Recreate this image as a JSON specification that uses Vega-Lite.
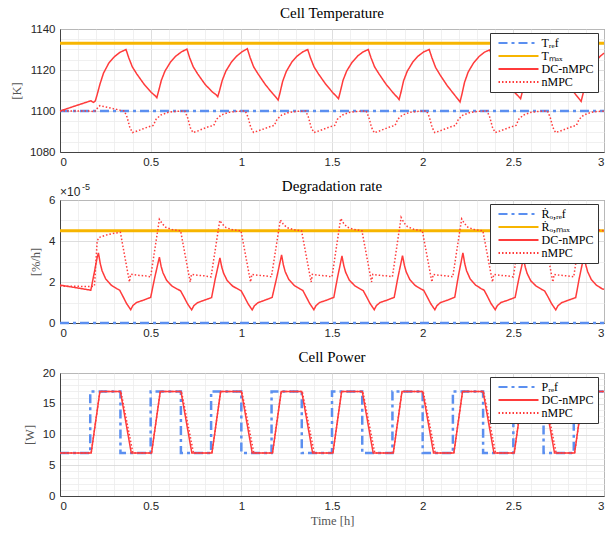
{
"$schema":"https://vega.github.io/schema/vega-lite/v6.json",
"padding":{"left":9,"top":5,"right":10,"bottom":2},
"spacing":10,
"config":{
"view":{"stroke":"#444","strokeWidth":1},
"title":{"font":"Liberation Serif","fontSize":15,"fontWeight":"normal","color":"#000","offset":2},
"axis":{"labelFont":"Liberation Sans","labelFontSize":11.5,"labelColor":"#262626","titleFont":"Liberation Serif","titleFontWeight":"normal","titleFontSize":12.5,"titleColor":"#555","domainColor":"#444","ticks":false,"labelOverlap":false,"labelBound":false,"gridWidth":0.8},
"axisY":{"labelPadding":5,"titlePadding":6},
"axisX":{"labelPadding":4},
"legend":{"orient":"none","legendX":430,"legendY":4,"title":null,"strokeColor":"#333","fillColor":"#fff","padding":4,"symbolType":"M-8,0H8","symbolSize":25,"symbolStrokeWidth":2,"symbolOffset":18.5,"labelOffset":17,"labelFont":"Liberation Serif","labelFontSize":12,"labelColor":"#000","rowPadding":1}
},
"resolve":{"scale":{"color":"independent","strokeDash":"independent"}},
"datasets":{
"temp":[
{"t":0,"v":1100,"s":"Tref"},{"t":3,"v":1100,"s":"Tref"},
{"t":0,"v":1133,"s":"Tmax"},{"t":3,"v":1133,"s":"Tmax"},
{"t":0,"v":1100,"s":"DC-nMPC"},{"t":0.17,"v":1105,"s":"DC-nMPC"},{"t":0.185,"v":1104.2,"s":"DC-nMPC"},{"t":0.195,"v":1105,"s":"DC-nMPC"},{"t":0.205,"v":1108,"s":"DC-nMPC"},{"t":0.22,"v":1113,"s":"DC-nMPC"},{"t":0.24,"v":1118.5,"s":"DC-nMPC"},{"t":0.27,"v":1123.5,"s":"DC-nMPC"},{"t":0.3,"v":1126.5,"s":"DC-nMPC"},{"t":0.33,"v":1128.6,"s":"DC-nMPC"},{"t":0.364,"v":1130,"s":"DC-nMPC"},
{"t":0.379,"v":1126,"s":"DC-nMPC"},{"t":0.399,"v":1121.5,"s":"DC-nMPC"},{"t":0.424,"v":1118,"s":"DC-nMPC"},{"t":0.464,"v":1113,"s":"DC-nMPC"},{"t":0.504,"v":1109,"s":"DC-nMPC"},{"t":0.524,"v":1107.5,"s":"DC-nMPC"},{"t":0.534,"v":1106.5,"s":"DC-nMPC"},{"t":0.544,"v":1109.8,"s":"DC-nMPC"},{"t":0.559,"v":1115,"s":"DC-nMPC"},{"t":0.579,"v":1119.5,"s":"DC-nMPC"},{"t":0.609,"v":1123.8,"s":"DC-nMPC"},{"t":0.639,"v":1126.8,"s":"DC-nMPC"},{"t":0.669,"v":1128.8,"s":"DC-nMPC"},{"t":0.7,"v":1130.2,"s":"DC-nMPC"},
{"t":0.715,"v":1126,"s":"DC-nMPC"},{"t":0.735,"v":1121.5,"s":"DC-nMPC"},{"t":0.76,"v":1118,"s":"DC-nMPC"},{"t":0.8,"v":1113,"s":"DC-nMPC"},{"t":0.84,"v":1109.3,"s":"DC-nMPC"},{"t":0.86,"v":1108,"s":"DC-nMPC"},{"t":0.87,"v":1107,"s":"DC-nMPC"},{"t":0.88,"v":1110,"s":"DC-nMPC"},{"t":0.895,"v":1115,"s":"DC-nMPC"},{"t":0.915,"v":1119.5,"s":"DC-nMPC"},{"t":0.945,"v":1123.8,"s":"DC-nMPC"},{"t":0.975,"v":1126.8,"s":"DC-nMPC"},{"t":1.005,"v":1129,"s":"DC-nMPC"},{"t":1.033,"v":1130.4,"s":"DC-nMPC"},
{"t":1.048,"v":1126.2,"s":"DC-nMPC"},{"t":1.068,"v":1121.5,"s":"DC-nMPC"},{"t":1.093,"v":1118,"s":"DC-nMPC"},{"t":1.133,"v":1112.8,"s":"DC-nMPC"},{"t":1.173,"v":1108.5,"s":"DC-nMPC"},{"t":1.193,"v":1106.5,"s":"DC-nMPC"},{"t":1.203,"v":1105.3,"s":"DC-nMPC"},{"t":1.213,"v":1108.8,"s":"DC-nMPC"},{"t":1.228,"v":1114.5,"s":"DC-nMPC"},{"t":1.248,"v":1119.3,"s":"DC-nMPC"},{"t":1.278,"v":1123.8,"s":"DC-nMPC"},{"t":1.308,"v":1126.8,"s":"DC-nMPC"},{"t":1.338,"v":1128.8,"s":"DC-nMPC"},{"t":1.366,"v":1130,"s":"DC-nMPC"},
{"t":1.381,"v":1126,"s":"DC-nMPC"},{"t":1.401,"v":1121.5,"s":"DC-nMPC"},{"t":1.426,"v":1118,"s":"DC-nMPC"},{"t":1.466,"v":1113,"s":"DC-nMPC"},{"t":1.506,"v":1108.8,"s":"DC-nMPC"},{"t":1.526,"v":1107,"s":"DC-nMPC"},{"t":1.536,"v":1106,"s":"DC-nMPC"},{"t":1.546,"v":1109.5,"s":"DC-nMPC"},{"t":1.561,"v":1115,"s":"DC-nMPC"},{"t":1.581,"v":1119.5,"s":"DC-nMPC"},{"t":1.611,"v":1123.8,"s":"DC-nMPC"},{"t":1.641,"v":1126.8,"s":"DC-nMPC"},{"t":1.671,"v":1128.8,"s":"DC-nMPC"},{"t":1.7,"v":1130,"s":"DC-nMPC"},
{"t":1.715,"v":1126,"s":"DC-nMPC"},{"t":1.735,"v":1121.5,"s":"DC-nMPC"},{"t":1.76,"v":1118,"s":"DC-nMPC"},{"t":1.8,"v":1112.8,"s":"DC-nMPC"},{"t":1.84,"v":1108.6,"s":"DC-nMPC"},{"t":1.86,"v":1106.7,"s":"DC-nMPC"},{"t":1.87,"v":1105.6,"s":"DC-nMPC"},{"t":1.88,"v":1109,"s":"DC-nMPC"},{"t":1.895,"v":1114.8,"s":"DC-nMPC"},{"t":1.915,"v":1119.4,"s":"DC-nMPC"},{"t":1.945,"v":1123.8,"s":"DC-nMPC"},{"t":1.975,"v":1126.8,"s":"DC-nMPC"},{"t":2.005,"v":1128.8,"s":"DC-nMPC"},{"t":2.036,"v":1130,"s":"DC-nMPC"},
{"t":2.051,"v":1126,"s":"DC-nMPC"},{"t":2.071,"v":1121.3,"s":"DC-nMPC"},{"t":2.096,"v":1117.6,"s":"DC-nMPC"},{"t":2.136,"v":1112.3,"s":"DC-nMPC"},{"t":2.176,"v":1107.8,"s":"DC-nMPC"},{"t":2.196,"v":1105.6,"s":"DC-nMPC"},{"t":2.206,"v":1104.4,"s":"DC-nMPC"},{"t":2.216,"v":1108,"s":"DC-nMPC"},{"t":2.231,"v":1114,"s":"DC-nMPC"},{"t":2.251,"v":1119,"s":"DC-nMPC"},{"t":2.281,"v":1123.5,"s":"DC-nMPC"},{"t":2.311,"v":1126.6,"s":"DC-nMPC"},{"t":2.341,"v":1128.7,"s":"DC-nMPC"},{"t":2.37,"v":1129.8,"s":"DC-nMPC"},
{"t":2.385,"v":1126,"s":"DC-nMPC"},{"t":2.405,"v":1121.5,"s":"DC-nMPC"},{"t":2.43,"v":1118,"s":"DC-nMPC"},{"t":2.47,"v":1113,"s":"DC-nMPC"},{"t":2.51,"v":1108.8,"s":"DC-nMPC"},{"t":2.53,"v":1107,"s":"DC-nMPC"},{"t":2.54,"v":1106,"s":"DC-nMPC"},{"t":2.55,"v":1109.5,"s":"DC-nMPC"},{"t":2.565,"v":1115,"s":"DC-nMPC"},{"t":2.585,"v":1119.5,"s":"DC-nMPC"},{"t":2.615,"v":1123.8,"s":"DC-nMPC"},{"t":2.645,"v":1126.8,"s":"DC-nMPC"},{"t":2.675,"v":1128.8,"s":"DC-nMPC"},{"t":2.704,"v":1130,"s":"DC-nMPC"},
{"t":2.719,"v":1126,"s":"DC-nMPC"},{"t":2.739,"v":1121.3,"s":"DC-nMPC"},{"t":2.764,"v":1117.7,"s":"DC-nMPC"},{"t":2.804,"v":1112.5,"s":"DC-nMPC"},{"t":2.844,"v":1108,"s":"DC-nMPC"},{"t":2.864,"v":1105.8,"s":"DC-nMPC"},{"t":2.874,"v":1104.7,"s":"DC-nMPC"},{"t":2.884,"v":1108.3,"s":"DC-nMPC"},{"t":2.899,"v":1114.2,"s":"DC-nMPC"},{"t":2.919,"v":1119.2,"s":"DC-nMPC"},{"t":2.949,"v":1123.6,"s":"DC-nMPC"},{"t":2.979,"v":1126.7,"s":"DC-nMPC"},{"t":3,"v":1128.2,"s":"DC-nMPC"},
{"t":0,"v":1100,"s":"nMPC"},{"t":0.17,"v":1100,"s":"nMPC"},{"t":0.19,"v":1099.5,"s":"nMPC"},{"t":0.2,"v":1100.8,"s":"nMPC"},{"t":0.22,"v":1102.6,"s":"nMPC"},{"t":0.25,"v":1102,"s":"nMPC"},{"t":0.29,"v":1101.2,"s":"nMPC"},{"t":0.33,"v":1100.4,"s":"nMPC"},{"t":0.355,"v":1100,"s":"nMPC"},
{"t":0.37,"v":1097,"s":"nMPC"},{"t":0.385,"v":1092,"s":"nMPC"},{"t":0.4,"v":1089.5,"s":"nMPC"},{"t":0.425,"v":1090.2,"s":"nMPC"},{"t":0.455,"v":1091.2,"s":"nMPC"},{"t":0.485,"v":1092.2,"s":"nMPC"},{"t":0.515,"v":1093,"s":"nMPC"},{"t":0.53,"v":1096,"s":"nMPC"},{"t":0.555,"v":1098,"s":"nMPC"},{"t":0.595,"v":1099.3,"s":"nMPC"},{"t":0.635,"v":1099.8,"s":"nMPC"},{"t":0.688,"v":1100,"s":"nMPC"},
{"t":0.703,"v":1097,"s":"nMPC"},{"t":0.718,"v":1092,"s":"nMPC"},{"t":0.733,"v":1089.5,"s":"nMPC"},{"t":0.758,"v":1090.2,"s":"nMPC"},{"t":0.788,"v":1091.3,"s":"nMPC"},{"t":0.818,"v":1092.3,"s":"nMPC"},{"t":0.848,"v":1093,"s":"nMPC"},{"t":0.863,"v":1096,"s":"nMPC"},{"t":0.888,"v":1098,"s":"nMPC"},{"t":0.928,"v":1099.3,"s":"nMPC"},{"t":0.968,"v":1099.8,"s":"nMPC"},{"t":1.022,"v":1100,"s":"nMPC"},
{"t":1.037,"v":1097,"s":"nMPC"},{"t":1.052,"v":1092,"s":"nMPC"},{"t":1.067,"v":1089.6,"s":"nMPC"},{"t":1.092,"v":1090.3,"s":"nMPC"},{"t":1.122,"v":1091.2,"s":"nMPC"},{"t":1.152,"v":1092.2,"s":"nMPC"},{"t":1.182,"v":1093,"s":"nMPC"},{"t":1.197,"v":1096,"s":"nMPC"},{"t":1.222,"v":1098,"s":"nMPC"},{"t":1.262,"v":1099.3,"s":"nMPC"},{"t":1.302,"v":1099.8,"s":"nMPC"},{"t":1.355,"v":1100,"s":"nMPC"},
{"t":1.37,"v":1097,"s":"nMPC"},{"t":1.385,"v":1092,"s":"nMPC"},{"t":1.4,"v":1089.5,"s":"nMPC"},{"t":1.425,"v":1090.2,"s":"nMPC"},{"t":1.455,"v":1091.2,"s":"nMPC"},{"t":1.485,"v":1092.2,"s":"nMPC"},{"t":1.515,"v":1093,"s":"nMPC"},{"t":1.53,"v":1096,"s":"nMPC"},{"t":1.555,"v":1098,"s":"nMPC"},{"t":1.595,"v":1099.3,"s":"nMPC"},{"t":1.635,"v":1099.8,"s":"nMPC"},{"t":1.688,"v":1100,"s":"nMPC"},
{"t":1.703,"v":1097,"s":"nMPC"},{"t":1.718,"v":1092,"s":"nMPC"},{"t":1.733,"v":1089.4,"s":"nMPC"},{"t":1.758,"v":1090.1,"s":"nMPC"},{"t":1.788,"v":1091.2,"s":"nMPC"},{"t":1.818,"v":1092.2,"s":"nMPC"},{"t":1.848,"v":1093,"s":"nMPC"},{"t":1.863,"v":1096,"s":"nMPC"},{"t":1.888,"v":1098,"s":"nMPC"},{"t":1.928,"v":1099.3,"s":"nMPC"},{"t":1.968,"v":1099.8,"s":"nMPC"},{"t":2.022,"v":1100,"s":"nMPC"},
{"t":2.037,"v":1097,"s":"nMPC"},{"t":2.052,"v":1092,"s":"nMPC"},{"t":2.067,"v":1089.5,"s":"nMPC"},{"t":2.092,"v":1090.2,"s":"nMPC"},{"t":2.122,"v":1091.2,"s":"nMPC"},{"t":2.152,"v":1092.2,"s":"nMPC"},{"t":2.182,"v":1093,"s":"nMPC"},{"t":2.197,"v":1096,"s":"nMPC"},{"t":2.222,"v":1098,"s":"nMPC"},{"t":2.262,"v":1099.3,"s":"nMPC"},{"t":2.302,"v":1099.8,"s":"nMPC"},{"t":2.355,"v":1100,"s":"nMPC"},
{"t":2.37,"v":1097,"s":"nMPC"},{"t":2.385,"v":1092,"s":"nMPC"},{"t":2.4,"v":1089.5,"s":"nMPC"},{"t":2.425,"v":1090.2,"s":"nMPC"},{"t":2.455,"v":1091.2,"s":"nMPC"},{"t":2.485,"v":1092.2,"s":"nMPC"},{"t":2.515,"v":1093,"s":"nMPC"},{"t":2.53,"v":1096,"s":"nMPC"},{"t":2.555,"v":1098,"s":"nMPC"},{"t":2.595,"v":1099.3,"s":"nMPC"},{"t":2.635,"v":1099.8,"s":"nMPC"},{"t":2.688,"v":1100,"s":"nMPC"},
{"t":2.703,"v":1097,"s":"nMPC"},{"t":2.718,"v":1092,"s":"nMPC"},{"t":2.733,"v":1089.5,"s":"nMPC"},{"t":2.758,"v":1090.2,"s":"nMPC"},{"t":2.788,"v":1091.2,"s":"nMPC"},{"t":2.818,"v":1092.2,"s":"nMPC"},{"t":2.848,"v":1093,"s":"nMPC"},{"t":2.863,"v":1096,"s":"nMPC"},{"t":2.888,"v":1098,"s":"nMPC"},{"t":2.928,"v":1099.3,"s":"nMPC"},{"t":2.968,"v":1099.8,"s":"nMPC"},{"t":3,"v":1099.9,"s":"nMPC"}
],
"deg":[
{"t":0,"v":0,"s":"Rref"},{"t":3,"v":0,"s":"Rref"},
{"t":0,"v":4.5,"s":"Rmax"},{"t":3,"v":4.5,"s":"Rmax"},
{"t":0,"v":1.85,"s":"DC-nMPC"},{"t":0.17,"v":1.6,"s":"DC-nMPC"},{"t":0.19,"v":2.5,"s":"DC-nMPC"},{"t":0.205,"v":3.2,"s":"DC-nMPC"},{"t":0.212,"v":3.42,"s":"DC-nMPC"},
{"t":0.222,"v":2.9,"s":"DC-nMPC"},{"t":0.232,"v":2.55,"s":"DC-nMPC"},{"t":0.252,"v":2.15,"s":"DC-nMPC"},{"t":0.282,"v":1.85,"s":"DC-nMPC"},{"t":0.312,"v":1.68,"s":"DC-nMPC"},{"t":0.329,"v":1.6,"s":"DC-nMPC"},{"t":0.347,"v":1.3,"s":"DC-nMPC"},{"t":0.367,"v":0.95,"s":"DC-nMPC"},{"t":0.39,"v":0.65,"s":"DC-nMPC"},{"t":0.402,"v":0.85,"s":"DC-nMPC"},{"t":0.422,"v":1,"s":"DC-nMPC"},{"t":0.462,"v":1.12,"s":"DC-nMPC"},{"t":0.5,"v":1.25,"s":"DC-nMPC"},{"t":0.522,"v":2.2,"s":"DC-nMPC"},{"t":0.548,"v":3.21,"s":"DC-nMPC"},
{"t":0.558,"v":2.75,"s":"DC-nMPC"},{"t":0.568,"v":2.45,"s":"DC-nMPC"},{"t":0.588,"v":2.08,"s":"DC-nMPC"},{"t":0.618,"v":1.8,"s":"DC-nMPC"},{"t":0.648,"v":1.65,"s":"DC-nMPC"},{"t":0.665,"v":1.57,"s":"DC-nMPC"},{"t":0.683,"v":1.28,"s":"DC-nMPC"},{"t":0.703,"v":0.94,"s":"DC-nMPC"},{"t":0.726,"v":0.64,"s":"DC-nMPC"},{"t":0.738,"v":0.84,"s":"DC-nMPC"},{"t":0.758,"v":0.99,"s":"DC-nMPC"},{"t":0.798,"v":1.12,"s":"DC-nMPC"},{"t":0.836,"v":1.24,"s":"DC-nMPC"},{"t":0.856,"v":2.15,"s":"DC-nMPC"},{"t":0.882,"v":3.18,"s":"DC-nMPC"},
{"t":0.892,"v":2.73,"s":"DC-nMPC"},{"t":0.902,"v":2.43,"s":"DC-nMPC"},{"t":0.922,"v":2.07,"s":"DC-nMPC"},{"t":0.952,"v":1.8,"s":"DC-nMPC"},{"t":0.982,"v":1.65,"s":"DC-nMPC"},{"t":0.999,"v":1.57,"s":"DC-nMPC"},{"t":1.017,"v":1.28,"s":"DC-nMPC"},{"t":1.037,"v":0.94,"s":"DC-nMPC"},{"t":1.06,"v":0.64,"s":"DC-nMPC"},{"t":1.072,"v":0.84,"s":"DC-nMPC"},{"t":1.092,"v":0.99,"s":"DC-nMPC"},{"t":1.132,"v":1.12,"s":"DC-nMPC"},{"t":1.17,"v":1.25,"s":"DC-nMPC"},{"t":1.196,"v":2.25,"s":"DC-nMPC"},{"t":1.222,"v":3.32,"s":"DC-nMPC"},
{"t":1.232,"v":2.83,"s":"DC-nMPC"},{"t":1.242,"v":2.5,"s":"DC-nMPC"},{"t":1.262,"v":2.12,"s":"DC-nMPC"},{"t":1.292,"v":1.83,"s":"DC-nMPC"},{"t":1.322,"v":1.67,"s":"DC-nMPC"},{"t":1.339,"v":1.59,"s":"DC-nMPC"},{"t":1.357,"v":1.29,"s":"DC-nMPC"},{"t":1.377,"v":0.95,"s":"DC-nMPC"},{"t":1.4,"v":0.65,"s":"DC-nMPC"},{"t":1.412,"v":0.85,"s":"DC-nMPC"},{"t":1.432,"v":1,"s":"DC-nMPC"},{"t":1.472,"v":1.12,"s":"DC-nMPC"},{"t":1.51,"v":1.25,"s":"DC-nMPC"},{"t":1.53,"v":2.2,"s":"DC-nMPC"},{"t":1.555,"v":3.27,"s":"DC-nMPC"},
{"t":1.565,"v":2.8,"s":"DC-nMPC"},{"t":1.575,"v":2.48,"s":"DC-nMPC"},{"t":1.595,"v":2.1,"s":"DC-nMPC"},{"t":1.625,"v":1.82,"s":"DC-nMPC"},{"t":1.655,"v":1.66,"s":"DC-nMPC"},{"t":1.672,"v":1.58,"s":"DC-nMPC"},{"t":1.69,"v":1.29,"s":"DC-nMPC"},{"t":1.71,"v":0.95,"s":"DC-nMPC"},{"t":1.733,"v":0.65,"s":"DC-nMPC"},{"t":1.745,"v":0.85,"s":"DC-nMPC"},{"t":1.765,"v":1,"s":"DC-nMPC"},{"t":1.805,"v":1.12,"s":"DC-nMPC"},{"t":1.843,"v":1.25,"s":"DC-nMPC"},{"t":1.863,"v":2.2,"s":"DC-nMPC"},{"t":1.889,"v":3.29,"s":"DC-nMPC"},
{"t":1.899,"v":2.82,"s":"DC-nMPC"},{"t":1.909,"v":2.5,"s":"DC-nMPC"},{"t":1.929,"v":2.12,"s":"DC-nMPC"},{"t":1.959,"v":1.83,"s":"DC-nMPC"},{"t":1.989,"v":1.67,"s":"DC-nMPC"},{"t":2.006,"v":1.59,"s":"DC-nMPC"},{"t":2.024,"v":1.29,"s":"DC-nMPC"},{"t":2.044,"v":0.95,"s":"DC-nMPC"},{"t":2.067,"v":0.65,"s":"DC-nMPC"},{"t":2.079,"v":0.85,"s":"DC-nMPC"},{"t":2.099,"v":1,"s":"DC-nMPC"},{"t":2.139,"v":1.12,"s":"DC-nMPC"},{"t":2.177,"v":1.26,"s":"DC-nMPC"},{"t":2.197,"v":2.3,"s":"DC-nMPC"},{"t":2.222,"v":3.42,"s":"DC-nMPC"},
{"t":2.232,"v":2.9,"s":"DC-nMPC"},{"t":2.242,"v":2.55,"s":"DC-nMPC"},{"t":2.262,"v":2.15,"s":"DC-nMPC"},{"t":2.292,"v":1.85,"s":"DC-nMPC"},{"t":2.322,"v":1.68,"s":"DC-nMPC"},{"t":2.339,"v":1.6,"s":"DC-nMPC"},{"t":2.357,"v":1.3,"s":"DC-nMPC"},{"t":2.377,"v":0.95,"s":"DC-nMPC"},{"t":2.4,"v":0.65,"s":"DC-nMPC"},{"t":2.412,"v":0.85,"s":"DC-nMPC"},{"t":2.432,"v":1,"s":"DC-nMPC"},{"t":2.472,"v":1.12,"s":"DC-nMPC"},{"t":2.51,"v":1.25,"s":"DC-nMPC"},{"t":2.53,"v":2.15,"s":"DC-nMPC"},{"t":2.556,"v":3.15,"s":"DC-nMPC"},
{"t":2.566,"v":2.72,"s":"DC-nMPC"},{"t":2.576,"v":2.42,"s":"DC-nMPC"},{"t":2.596,"v":2.06,"s":"DC-nMPC"},{"t":2.626,"v":1.8,"s":"DC-nMPC"},{"t":2.656,"v":1.64,"s":"DC-nMPC"},{"t":2.673,"v":1.56,"s":"DC-nMPC"},{"t":2.691,"v":1.28,"s":"DC-nMPC"},{"t":2.711,"v":0.94,"s":"DC-nMPC"},{"t":2.734,"v":0.64,"s":"DC-nMPC"},{"t":2.746,"v":0.84,"s":"DC-nMPC"},{"t":2.766,"v":0.99,"s":"DC-nMPC"},{"t":2.806,"v":1.12,"s":"DC-nMPC"},{"t":2.844,"v":1.24,"s":"DC-nMPC"},{"t":2.864,"v":2.2,"s":"DC-nMPC"},{"t":2.89,"v":3.3,"s":"DC-nMPC"},
{"t":2.9,"v":2.82,"s":"DC-nMPC"},{"t":2.91,"v":2.5,"s":"DC-nMPC"},{"t":2.93,"v":2.12,"s":"DC-nMPC"},{"t":2.96,"v":1.83,"s":"DC-nMPC"},{"t":2.99,"v":1.67,"s":"DC-nMPC"},{"t":3,"v":1.64,"s":"DC-nMPC"},
{"t":0,"v":1.8,"s":"nMPC"},{"t":0.17,"v":1.78,"s":"nMPC"},{"t":0.19,"v":1.8,"s":"nMPC"},{"t":0.205,"v":4,"s":"nMPC"},{"t":0.215,"v":4.17,"s":"nMPC"},{"t":0.25,"v":4.28,"s":"nMPC"},{"t":0.29,"v":4.36,"s":"nMPC"},{"t":0.333,"v":4.42,"s":"nMPC"},{"t":0.383,"v":2,"s":"nMPC"},{"t":0.39,"v":2.38,"s":"nMPC"},{"t":0.43,"v":2.33,"s":"nMPC"},{"t":0.47,"v":2.3,"s":"nMPC"},{"t":0.5,"v":2.25,"s":"nMPC"},{"t":0.548,"v":5.06,"s":"nMPC"},
{"t":0.563,"v":4.85,"s":"nMPC"},{"t":0.583,"v":4.67,"s":"nMPC"},{"t":0.618,"v":4.56,"s":"nMPC"},{"t":0.665,"v":4.5,"s":"nMPC"},{"t":0.718,"v":2,"s":"nMPC"},{"t":0.725,"v":2.37,"s":"nMPC"},{"t":0.758,"v":2.33,"s":"nMPC"},{"t":0.798,"v":2.3,"s":"nMPC"},{"t":0.833,"v":2.25,"s":"nMPC"},{"t":0.881,"v":5,"s":"nMPC"},
{"t":0.896,"v":4.82,"s":"nMPC"},{"t":0.916,"v":4.65,"s":"nMPC"},{"t":0.951,"v":4.55,"s":"nMPC"},{"t":0.998,"v":4.5,"s":"nMPC"},{"t":1.051,"v":2,"s":"nMPC"},{"t":1.058,"v":2.37,"s":"nMPC"},{"t":1.091,"v":2.33,"s":"nMPC"},{"t":1.131,"v":2.3,"s":"nMPC"},{"t":1.166,"v":2.25,"s":"nMPC"},{"t":1.215,"v":5.03,"s":"nMPC"},
{"t":1.23,"v":4.84,"s":"nMPC"},{"t":1.25,"v":4.66,"s":"nMPC"},{"t":1.285,"v":4.56,"s":"nMPC"},{"t":1.332,"v":4.5,"s":"nMPC"},{"t":1.385,"v":2,"s":"nMPC"},{"t":1.392,"v":2.37,"s":"nMPC"},{"t":1.425,"v":2.33,"s":"nMPC"},{"t":1.465,"v":2.3,"s":"nMPC"},{"t":1.5,"v":2.25,"s":"nMPC"},{"t":1.548,"v":5.1,"s":"nMPC"},
{"t":1.563,"v":4.88,"s":"nMPC"},{"t":1.583,"v":4.68,"s":"nMPC"},{"t":1.618,"v":4.57,"s":"nMPC"},{"t":1.665,"v":4.5,"s":"nMPC"},{"t":1.718,"v":2,"s":"nMPC"},{"t":1.725,"v":2.37,"s":"nMPC"},{"t":1.758,"v":2.33,"s":"nMPC"},{"t":1.798,"v":2.3,"s":"nMPC"},{"t":1.833,"v":2.25,"s":"nMPC"},{"t":1.881,"v":5.15,"s":"nMPC"},
{"t":1.896,"v":4.9,"s":"nMPC"},{"t":1.916,"v":4.7,"s":"nMPC"},{"t":1.951,"v":4.57,"s":"nMPC"},{"t":1.998,"v":4.5,"s":"nMPC"},{"t":2.051,"v":2,"s":"nMPC"},{"t":2.058,"v":2.37,"s":"nMPC"},{"t":2.091,"v":2.33,"s":"nMPC"},{"t":2.131,"v":2.3,"s":"nMPC"},{"t":2.166,"v":2.25,"s":"nMPC"},{"t":2.215,"v":5.08,"s":"nMPC"},
{"t":2.23,"v":4.86,"s":"nMPC"},{"t":2.25,"v":4.67,"s":"nMPC"},{"t":2.285,"v":4.56,"s":"nMPC"},{"t":2.332,"v":4.5,"s":"nMPC"},{"t":2.385,"v":2,"s":"nMPC"},{"t":2.392,"v":2.37,"s":"nMPC"},{"t":2.425,"v":2.33,"s":"nMPC"},{"t":2.465,"v":2.3,"s":"nMPC"},{"t":2.5,"v":2.25,"s":"nMPC"},{"t":2.548,"v":5,"s":"nMPC"},
{"t":2.563,"v":4.82,"s":"nMPC"},{"t":2.583,"v":4.65,"s":"nMPC"},{"t":2.618,"v":4.55,"s":"nMPC"},{"t":2.665,"v":4.5,"s":"nMPC"},{"t":2.718,"v":2,"s":"nMPC"},{"t":2.725,"v":2.37,"s":"nMPC"},{"t":2.758,"v":2.33,"s":"nMPC"},{"t":2.798,"v":2.3,"s":"nMPC"},{"t":2.833,"v":2.25,"s":"nMPC"},{"t":2.881,"v":5.05,"s":"nMPC"},
{"t":2.896,"v":4.84,"s":"nMPC"},{"t":2.916,"v":4.66,"s":"nMPC"},{"t":2.951,"v":4.56,"s":"nMPC"},{"t":3,"v":4.5,"s":"nMPC"}
],
"pow":[
{"t":0,"v":7,"s":"Pref"},{"t":0.1667,"v":17,"s":"Pref"},{"t":0.3333,"v":7,"s":"Pref"},{"t":0.5,"v":17,"s":"Pref"},{"t":0.6667,"v":7,"s":"Pref"},{"t":0.8333,"v":17,"s":"Pref"},{"t":1,"v":7,"s":"Pref"},{"t":1.1667,"v":17,"s":"Pref"},{"t":1.3333,"v":7,"s":"Pref"},{"t":1.5,"v":17,"s":"Pref"},{"t":1.6667,"v":7,"s":"Pref"},{"t":1.8333,"v":17,"s":"Pref"},{"t":2,"v":7,"s":"Pref"},{"t":2.1667,"v":17,"s":"Pref"},{"t":2.3333,"v":7,"s":"Pref"},{"t":2.5,"v":17,"s":"Pref"},{"t":2.6667,"v":7,"s":"Pref"},{"t":2.8333,"v":17,"s":"Pref"},{"t":3,"v":17,"s":"Pref"},
{"t":0,"v":7,"s":"DC-nMPC"},{"t":0.172,"v":7,"s":"DC-nMPC"},{"t":0.22,"v":17,"s":"DC-nMPC"},{"t":0.333,"v":17,"s":"DC-nMPC"},{"t":0.393,"v":7,"s":"DC-nMPC"},{"t":0.505,"v":7,"s":"DC-nMPC"},{"t":0.553,"v":17,"s":"DC-nMPC"},{"t":0.667,"v":17,"s":"DC-nMPC"},{"t":0.727,"v":7,"s":"DC-nMPC"},{"t":0.838,"v":7,"s":"DC-nMPC"},{"t":0.886,"v":17,"s":"DC-nMPC"},{"t":1,"v":17,"s":"DC-nMPC"},{"t":1.06,"v":7,"s":"DC-nMPC"},{"t":1.172,"v":7,"s":"DC-nMPC"},{"t":1.22,"v":17,"s":"DC-nMPC"},{"t":1.333,"v":17,"s":"DC-nMPC"},{"t":1.393,"v":7,"s":"DC-nMPC"},{"t":1.505,"v":7,"s":"DC-nMPC"},{"t":1.553,"v":17,"s":"DC-nMPC"},{"t":1.667,"v":17,"s":"DC-nMPC"},{"t":1.727,"v":7,"s":"DC-nMPC"},{"t":1.838,"v":7,"s":"DC-nMPC"},{"t":1.886,"v":17,"s":"DC-nMPC"},{"t":2,"v":17,"s":"DC-nMPC"},{"t":2.06,"v":7,"s":"DC-nMPC"},{"t":2.172,"v":7,"s":"DC-nMPC"},{"t":2.22,"v":17,"s":"DC-nMPC"},{"t":2.333,"v":17,"s":"DC-nMPC"},{"t":2.393,"v":7,"s":"DC-nMPC"},{"t":2.505,"v":7,"s":"DC-nMPC"},{"t":2.553,"v":17,"s":"DC-nMPC"},{"t":2.667,"v":17,"s":"DC-nMPC"},{"t":2.727,"v":7,"s":"DC-nMPC"},{"t":2.838,"v":7,"s":"DC-nMPC"},{"t":2.886,"v":17,"s":"DC-nMPC"},{"t":3,"v":17,"s":"DC-nMPC"},
{"t":0,"v":7,"s":"nMPC"},{"t":0.172,"v":7,"s":"nMPC"},{"t":0.22,"v":17,"s":"nMPC"},{"t":0.336,"v":17,"s":"nMPC"},{"t":0.402,"v":7,"s":"nMPC"},{"t":0.505,"v":7,"s":"nMPC"},{"t":0.553,"v":17,"s":"nMPC"},{"t":0.67,"v":17,"s":"nMPC"},{"t":0.736,"v":7,"s":"nMPC"},{"t":0.838,"v":7,"s":"nMPC"},{"t":0.886,"v":17,"s":"nMPC"},{"t":1.003,"v":17,"s":"nMPC"},{"t":1.069,"v":7,"s":"nMPC"},{"t":1.172,"v":7,"s":"nMPC"},{"t":1.22,"v":17,"s":"nMPC"},{"t":1.336,"v":17,"s":"nMPC"},{"t":1.402,"v":7,"s":"nMPC"},{"t":1.505,"v":7,"s":"nMPC"},{"t":1.553,"v":17,"s":"nMPC"},{"t":1.67,"v":17,"s":"nMPC"},{"t":1.736,"v":7,"s":"nMPC"},{"t":1.838,"v":7,"s":"nMPC"},{"t":1.886,"v":17,"s":"nMPC"},{"t":2.003,"v":17,"s":"nMPC"},{"t":2.069,"v":7,"s":"nMPC"},{"t":2.172,"v":7,"s":"nMPC"},{"t":2.22,"v":17,"s":"nMPC"},{"t":2.336,"v":17,"s":"nMPC"},{"t":2.402,"v":7,"s":"nMPC"},{"t":2.505,"v":7,"s":"nMPC"},{"t":2.553,"v":17,"s":"nMPC"},{"t":2.67,"v":17,"s":"nMPC"},{"t":2.736,"v":7,"s":"nMPC"},{"t":2.838,"v":7,"s":"nMPC"},{"t":2.886,"v":17,"s":"nMPC"},{"t":3,"v":17,"s":"nMPC"}
]
},
"vconcat":[
{
"width":544,"height":123,
"title":"Cell Temperature",
"data":{"name":"temp"},
"encoding":{
"x":{"field":"t","type":"quantitative","scale":{"domain":[0,3],"nice":false},"axis":{"title":null,"format":"~g","values":[0,0.1,0.2,0.3,0.4,0.5,0.6,0.7,0.8,0.9,1,1.1,1.2,1.3,1.4,1.5,1.6,1.7,1.8,1.9,2,2.1,2.2,2.3,2.4,2.5,2.6,2.7,2.8,2.9,3],"labelExpr":"abs(datum.value*2-round(datum.value*2))<0.001 ? datum.label : ''","gridColor":{"condition":{"test":"abs(datum.value*2-round(datum.value*2))<0.001","value":"#d6d6d6"},"value":"#ececec"}}},
"y":{"field":"v","type":"quantitative","scale":{"domain":[1080,1140],"nice":false,"zero":false},"axis":{"title":"[K]","format":"d","values":[1080,1085,1090,1095,1100,1105,1110,1115,1120,1125,1130,1135,1140],"labelExpr":"datum.value % 20 == 0 ? datum.label : ''","gridColor":{"condition":{"test":"datum.value % 20 == 0","value":"#d6d6d6"},"value":"#ececec"}}},
"color":{"field":"s","type":"nominal","scale":{"domain":["Tref","Tmax","DC-nMPC","nMPC"],"range":["#5b8ff0","#f7b500","#ff3b3b","#ff3b3b"]},"legend":{"labelExpr":"datum.label=='Tref' ? 'Tᵣₑf' : datum.label=='Tmax' ? 'Tₘₐₓ' : datum.label"}},
"strokeDash":{"field":"s","type":"nominal","scale":{"domain":["Tref","Tmax","DC-nMPC","nMPC"],"range":[[9,4,3,4],[1,0],[1,0],[1.5,2]]},"legend":{"labelExpr":"datum.label=='Tref' ? 'Tᵣₑf' : datum.label=='Tmax' ? 'Tₘₐₓ' : datum.label"}}
},
"layer":[
{"transform":[{"filter":"datum.s=='Tref'"}],"mark":{"type":"line","strokeWidth":2.5}},
{"transform":[{"filter":"datum.s=='Tmax'"}],"mark":{"type":"line","strokeWidth":3}},
{"transform":[{"filter":"datum.s=='DC-nMPC' || datum.s=='nMPC'"}],"mark":{"type":"line","strokeWidth":1.5}}
]
},
{
"width":544,"height":123,
"title":{"text":"Degradation rate","offset":-11},
"data":{"name":"deg"},
"encoding":{
"x":{"field":"t","type":"quantitative","scale":{"domain":[0,3],"nice":false},"axis":{"title":null,"format":"~g","values":[0,0.1,0.2,0.3,0.4,0.5,0.6,0.7,0.8,0.9,1,1.1,1.2,1.3,1.4,1.5,1.6,1.7,1.8,1.9,2,2.1,2.2,2.3,2.4,2.5,2.6,2.7,2.8,2.9,3],"labelExpr":"abs(datum.value*2-round(datum.value*2))<0.001 ? datum.label : ''","gridColor":{"condition":{"test":"abs(datum.value*2-round(datum.value*2))<0.001","value":"#d6d6d6"},"value":"#ececec"}}},
"y":{"field":"v","type":"quantitative","scale":{"domain":[0,6],"nice":false},"axis":{"title":"[%/h]","format":"d","values":[0,0.5,1,1.5,2,2.5,3,3.5,4,4.5,5,5.5,6],"labelExpr":"datum.value % 2 == 0 ? datum.label : ''","gridColor":{"condition":{"test":"datum.value % 2 == 0","value":"#d6d6d6"},"value":"#ececec"}}},
"color":{"field":"s","type":"nominal","scale":{"domain":["Rref","Rmax","DC-nMPC","nMPC"],"range":["#5b8ff0","#f7b500","#ff3b3b","#ff3b3b"]},"legend":{"labelExpr":"datum.label=='Rref' ? 'Ṙₒ,ᵣₑf' : datum.label=='Rmax' ? 'Ṙₒ,ₘₐₓ' : datum.label"}},
"strokeDash":{"field":"s","type":"nominal","scale":{"domain":["Rref","Rmax","DC-nMPC","nMPC"],"range":[[9,4,3,4],[1,0],[1,0],[1.5,2]]},"legend":{"labelExpr":"datum.label=='Rref' ? 'Ṙₒ,ᵣₑf' : datum.label=='Rmax' ? 'Ṙₒ,ₘₐₓ' : datum.label"}}
},
"layer":[
{"transform":[{"filter":"datum.s=='Rref'"}],"mark":{"type":"line","strokeWidth":2.5}},
{"transform":[{"filter":"datum.s=='Rmax'"}],"mark":{"type":"line","strokeWidth":3}},
{"transform":[{"filter":"datum.s=='DC-nMPC' || datum.s=='nMPC'"}],"mark":{"type":"line","strokeWidth":1.5}},
{"data":{"values":[{"t":0,"v":6,"txt":"×10"}]},"mark":{"type":"text","align":"left","baseline":"bottom","dy":-1,"font":"Liberation Sans","fontSize":12},"encoding":{"text":{"field":"txt"},"color":{"value":"#262626"},"strokeDash":{"value":[1,0]}}},
{"data":{"values":[{"t":0,"v":6,"txt":"-5"}]},"mark":{"type":"text","align":"left","baseline":"bottom","dx":22,"dy":-8,"font":"Liberation Sans","fontSize":9},"encoding":{"text":{"field":"txt"},"color":{"value":"#262626"},"strokeDash":{"value":[1,0]}}}
]
},
{
"width":544,"height":123,
"title":"Cell Power",
"data":{"name":"pow"},
"encoding":{
"x":{"field":"t","type":"quantitative","scale":{"domain":[0,3],"nice":false},"axis":{"title":"Time [h]","titlePadding":3,"format":"~g","values":[0,0.1,0.2,0.3,0.4,0.5,0.6,0.7,0.8,0.9,1,1.1,1.2,1.3,1.4,1.5,1.6,1.7,1.8,1.9,2,2.1,2.2,2.3,2.4,2.5,2.6,2.7,2.8,2.9,3],"labelExpr":"abs(datum.value*2-round(datum.value*2))<0.001 ? datum.label : ''","gridColor":{"condition":{"test":"abs(datum.value*2-round(datum.value*2))<0.001","value":"#d6d6d6"},"value":"#ececec"}}},
"y":{"field":"v","type":"quantitative","scale":{"domain":[0,20],"nice":false},"axis":{"title":"[W]","format":"d","values":[0,1,2,3,4,5,6,7,8,9,10,11,12,13,14,15,16,17,18,19,20],"labelExpr":"datum.value % 5 == 0 ? datum.label : ''","gridColor":{"condition":{"test":"datum.value % 5 == 0","value":"#d6d6d6"},"value":"#ececec"}}},
"color":{"field":"s","type":"nominal","scale":{"domain":["Pref","DC-nMPC","nMPC"],"range":["#5b8ff0","#ff3b3b","#ff3b3b"]},"legend":{"labelExpr":"datum.label=='Pref' ? 'Pᵣₑf' : datum.label"}},
"strokeDash":{"field":"s","type":"nominal","scale":{"domain":["Pref","DC-nMPC","nMPC"],"range":[[9,4,3,4],[1,0],[1.5,2]]},"legend":{"labelExpr":"datum.label=='Pref' ? 'Pᵣₑf' : datum.label"}}
},
"layer":[
{"transform":[{"filter":"datum.s=='Pref'"}],"mark":{"type":"line","strokeWidth":2.5,"interpolate":"step-after"}},
{"transform":[{"filter":"datum.s=='DC-nMPC' || datum.s=='nMPC'"}],"mark":{"type":"line","strokeWidth":1.5}}
]
}
]
}
